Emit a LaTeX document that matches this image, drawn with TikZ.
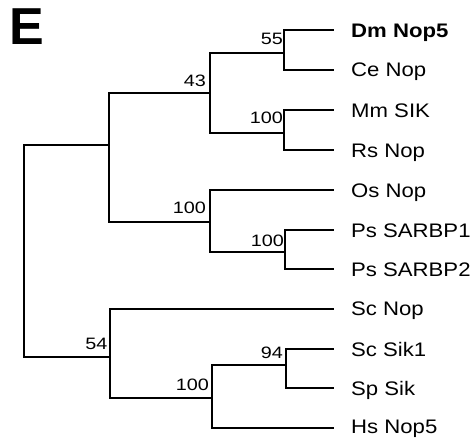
\documentclass[tikz,border=0pt]{standalone}
\usepackage{fontspec}
\setmainfont{Liberation Sans}
\newfontfamily\taxonfont[FakeStretch=1.13]{Liberation Sans}
\newfontfamily\bootfont[FakeStretch=1.2]{Liberation Sans}
\begin{document}
\begin{tikzpicture}[x=1pt,y=-1pt,
  branch/.style={line width=1.7pt,line join=miter,line cap=rect},
  taxon/.style={anchor=base west,inner sep=0pt,font=\taxonfont\fontsize{19.6}{22}\selectfont},
  support/.style={anchor=base east,inner sep=0pt,font=\bootfont\fontsize{16.5}{18}\selectfont}]
\useasboundingbox (0,0) rectangle (472,438);

% panel letter
\node[anchor=base west,inner sep=0pt,font=\bfseries\fontsize{52}{54}\selectfont] (panel) at (9.2,45) {E};

% branch tips
\coordinate (tDm)  at (333,30);
\coordinate (tCe)  at (333,70);
\coordinate (tMm)  at (333,110);
\coordinate (tRs)  at (333,150);
\coordinate (tOs)  at (333,190);
\coordinate (tPs1) at (333,230);
\coordinate (tPs2) at (333,269);
\coordinate (tScN) at (333,309);
\coordinate (tScS) at (333,349);
\coordinate (tSp)  at (333,388);
\coordinate (tHs)  at (333,428);

% internal nodes
\coordinate (nA) at (284,53);
\coordinate (nB) at (284,133);
\coordinate (nC) at (210,93);
\coordinate (nD) at (285,252);
\coordinate (nF) at (210,222);
\coordinate (nG) at (109,145);
\coordinate (nH) at (286,365);
\coordinate (nI) at (212,398);
\coordinate (nJ) at (110,357);
\coordinate (nR) at (24,250);

% branches
\draw[branch] (tDm) -| (nA) |- (tCe);
\draw[branch] (tMm) -| (nB) |- (tRs);
\draw[branch] (nA) -| (nC) |- (nB);
\draw[branch] (tPs1) -| (nD) |- (tPs2);
\draw[branch] (tOs) -| (nF) |- (nD);
\draw[branch] (nC) -| (nG) |- (nF);
\draw[branch] (tScS) -| (nH) |- (tSp);
\draw[branch] (nH) -| (nI) |- (tHs);
\draw[branch] (tScN) -| (nJ) |- (nI);
\draw[branch] (nG) -| (nR) |- (nJ);

% taxon names
\node[taxon,font=\taxonfont\bfseries\fontsize{19.6}{22}\selectfont] (lDm) at (351,37.2) {Dm Nop5};
\node[taxon] (lCe)  at (351,76.7)  {Ce Nop};
\node[taxon] (lMm)  at (351,117.2) {Mm SIK};
\node[taxon] (lRs)  at (351,157.2) {Rs Nop};
\node[taxon] (lOs)  at (351,197.2) {Os Nop};
\node[taxon] (lPs1) at (351,237.2) {Ps SARBP1};
\node[taxon] (lPs2) at (351,276.5) {Ps SARBP2};
\node[taxon] (lScN) at (351,315.7) {Sc Nop};
\node[taxon] (lScS) at (351,356.2) {Sc Sik1};
\node[taxon] (lSp)  at (351,395.2) {Sp Sik};
\node[taxon] (lHs)  at (351,433.6) {Hs Nop5};

% bootstrap support values
\node[support] (bA) at (283,45)    {55};
\node[support] (bB) at (283,123.3) {100};
\node[support] (bC) at (206,86.7)  {43};
\node[support] (bF) at (206,213.3) {100};
\node[support] (bD) at (284,246.7) {100};
\node[support] (bJ) at (107.5,350) {54};
\node[support] (bI) at (209,390.7) {100};
\node[support] (bH) at (283,358.3) {94};
\end{tikzpicture}
\end{document}
